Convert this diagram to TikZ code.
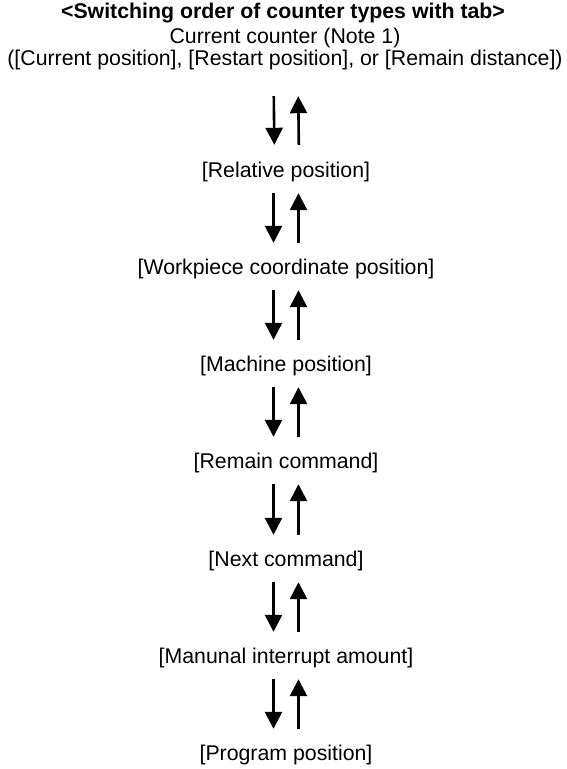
\documentclass[tikz,border=0pt]{standalone}
\usepackage{fontspec}
\setmainfont{Liberation Sans}
\usetikzlibrary{arrows.meta}

\begin{document}
\begin{tikzpicture}[x=1pt, y=1pt,
  lbl/.style={inner sep=0pt, anchor=base, text height=15pt, text depth=5pt,
    font=\fontsize{21.3}{22}\selectfont},
  fwd/.style={-{Triangle[width=17pt,length=17pt]}, line width=2.6pt}]
\useasboundingbox (0,0) rectangle (566,-769);
% Heading: current counter
\node[lbl, font=\fontsize{21.3}{22}\selectfont\bfseries] (title) at (283,-18) {<Switching order of counter types with tab>};
\node[lbl] (cur) at (285,-43) {Current counter (Note 1)};
\node[lbl] (curlist) at (285,-65) {([Current position], [Restart position], or [Remain distance])};
% Counter types in tab order
\node[lbl] (rel) at (286,-177) {[Relative position]};
\node[lbl] (work) at (286,-274) {[Workpiece coordinate position]};
\node[lbl] (mach) at (286,-371) {[Machine position]};
\node[lbl] (remcmd) at (286,-468) {[Remain command]};
\node[lbl] (next) at (286,-566) {[Next command]};
\node[lbl] (manint) at (286,-663) {[Manunal interrupt amount]};
\node[lbl] (prog) at (286,-760) {[Program position]};
% Arrow pairs: down = tab, up = back
\draw[fwd, shorten <=26pt, shorten >=17pt] ([xshift=-11.5pt]curlist.south) -- ([xshift=-11.5pt]rel.north);
\draw[fwd, shorten <=17pt, shorten >=26pt] ([xshift=13pt]rel.north) -- ([xshift=13pt]curlist.south);
\draw[fwd, shorten <=11pt, shorten >=16pt] ([xshift=-12.5pt]rel.south) -- ([xshift=-12.5pt]work.north);
\draw[fwd, shorten <=16pt, shorten >=11pt] ([xshift=12.5pt]work.north) -- ([xshift=12.5pt]rel.south);
\draw[fwd, shorten <=11pt, shorten >=16pt] ([xshift=-12.5pt]work.south) -- ([xshift=-12.5pt]mach.north);
\draw[fwd, shorten <=16pt, shorten >=11pt] ([xshift=12.5pt]mach.north) -- ([xshift=12.5pt]work.south);
\draw[fwd, shorten <=11pt, shorten >=16pt] ([xshift=-12.5pt]mach.south) -- ([xshift=-12.5pt]remcmd.north);
\draw[fwd, shorten <=16pt, shorten >=11pt] ([xshift=12.5pt]remcmd.north) -- ([xshift=12.5pt]mach.south);
\draw[fwd, shorten <=11pt, shorten >=16pt] ([xshift=-12.5pt]remcmd.south) -- ([xshift=-12.5pt]next.north);
\draw[fwd, shorten <=16pt, shorten >=11pt] ([xshift=12.5pt]next.north) -- ([xshift=12.5pt]remcmd.south);
\draw[fwd, shorten <=11pt, shorten >=16pt] ([xshift=-12.5pt]next.south) -- ([xshift=-12.5pt]manint.north);
\draw[fwd, shorten <=16pt, shorten >=11pt] ([xshift=12.5pt]manint.north) -- ([xshift=12.5pt]next.south);
\draw[fwd, shorten <=11pt, shorten >=16pt] ([xshift=-12.5pt]manint.south) -- ([xshift=-12.5pt]prog.north);
\draw[fwd, shorten <=16pt, shorten >=11pt] ([xshift=12.5pt]prog.north) -- ([xshift=12.5pt]manint.south);
\end{tikzpicture}
\end{document}
